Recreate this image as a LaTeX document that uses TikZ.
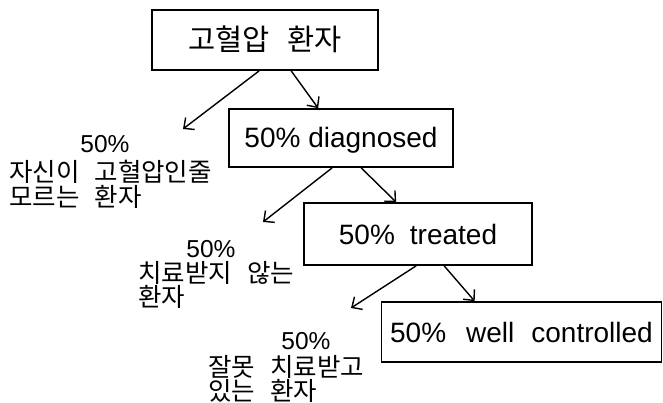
\documentclass[tikz,border=0pt]{standalone}
\usepackage{fontspec}
\setmainfont{Liberation Sans}
\newfontfamily\kr{Noto Sans CJK KR}
\usetikzlibrary{arrows.meta,calc}
\begin{document}
\begin{tikzpicture}[x=1pt,y=-1pt,
  box/.style={draw,line width=1.7pt,inner sep=0pt,text height=20pt,text depth=0pt,font=\fontsize{28}{30}\selectfont},
  arr/.style={line width=1.4pt,-{Straight Barb[length=8pt,width=15pt,line width=1.4pt]}},
  pct/.style={inner sep=0pt,text height=17pt,text depth=0pt,font=\fontsize{24.5}{26}\selectfont},
  kor/.style={inner sep=0pt,align=left,anchor=north west,font=\kr\fontsize{25.5}{24.5}\selectfont}]
\useasboundingbox (0,0) rectangle (663,403);
\node[box,minimum width=226pt,minimum height=60pt,text height=22pt] (b1) at (265,40) {\kr\fontsize{29.5}{30}\selectfont 고혈압\hspace{17pt}환자};
\node[box,minimum width=224pt,minimum height=58pt] (b2) at (341,138) {50\% diagnosed};
\node[box,minimum width=228pt,minimum height=62pt] (b3) at (418,234) {50\%\hspace{15pt}treated};
\node[box,minimum width=280pt,minimum height=60pt] (b4) at (521.5,332) {50\%\hspace{20pt}well\hspace{17pt}controlled};
\node[pct] (p1) at (105,144) {50\%};
\node[kor] (k1) at (9,160) {자신이\hspace{15pt}고혈압인줄\\모르는\hspace{15pt}환자};
\node[pct] (p2) at (211,248.5) {50\%};
\node[kor] (k2) at (138,261) {치료받지\hspace{15pt}않는\\환자};
\node[pct] (p3) at (306,340.5) {50\%};
\node[kor] (k3) at (208,355) {잘못\hspace{15pt}치료받고\\있는\hspace{15pt}환자};
\coordinate (e1) at (183,129);
\coordinate (e2) at (263,222);
\coordinate (e3) at (351,308);
\draw[arr] ($(b1.south west)+(108,0)$) -- (e1);
\draw[arr] ($(b1.south west)+(140,0)$) -- ($(b2.north west)+(90,0)$);
\draw[arr] ($(b2.south west)+(104,0)$) -- (e2);
\draw[arr] ($(b2.south west)+(133,0)$) -- ($(b3.north west)+(93,0)$);
\draw[arr] ($(b3.south west)+(113,0)$) -- (e3);
\draw[arr] ($(b3.south west)+(141,0)$) -- ($(b4.north west)+(94,0)$);
\end{tikzpicture}
\end{document}
